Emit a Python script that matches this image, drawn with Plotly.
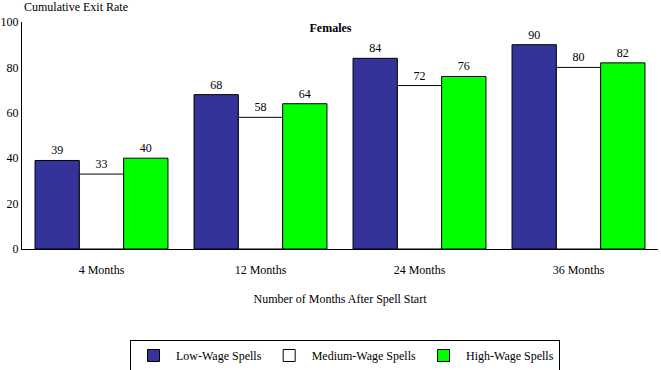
import plotly.graph_objects as go

categories = ["4 Months", "12 Months", "24 Months", "36 Months"]
low_wage = [39, 68, 84, 90]
medium_wage = [33, 58, 72, 80]
high_wage = [40, 64, 76, 82]
series_names = ["Low-Wage Spells", "Medium-Wage Spells", "High-Wage Spells"]
colors = ["#333399", "#FFFFFF", "#00FF00"]

FONT = "Liberation Serif"

fig = go.Figure()
for name, vals, col in zip(series_names, [low_wage, medium_wage, high_wage], colors):
    fig.add_trace(go.Bar(
        x=categories, y=vals, name=name,
        marker=dict(color=col, line=dict(color="black", width=1)),
        text=[str(v) for v in vals], textposition="outside",
        textfont=dict(family=FONT, size=12, color="black"),
        cliponaxis=False,
    ))

fig.update_layout(
    width=661, height=370,
    margin=dict(l=22, r=3, t=22, b=121, autoexpand=False),
    paper_bgcolor="white", plot_bgcolor="white",
    font=dict(family=FONT, size=12, color="black"),
    barmode="group", bargap=0.164, bargroupgap=0,
    title=dict(text="<b>Females</b>", x=0.5, xref="container", y=1 - 28 / 370,
               yref="container", xanchor="center", yanchor="middle",
               font=dict(family=FONT, size=12)),
    xaxis=dict(showline=True, linecolor="black", linewidth=1, ticks="outside",
               ticklen=10, tickcolor="rgba(0,0,0,0)", automargin=False,
               showgrid=False, tickfont=dict(family=FONT, size=12),
               title=dict(text="Number of Months After Spell Start", standoff=18,
                          font=dict(family=FONT, size=12))),
    yaxis=dict(range=[0, 100], tickvals=[0, 20, 40, 60, 80, 100], showline=True,
               linecolor="black", linewidth=1, ticks="", showgrid=False,
               zeroline=False, automargin=False, tickfont=dict(family=FONT, size=12)),
    legend=dict(orientation="h", x=345 / 661, xanchor="center", xref="container",
                y=(249 - 340) / 227, yanchor="top", yref="paper",
                bordercolor="black", borderwidth=1,
                font=dict(family=FONT, size=12), itemwidth=35,
                traceorder="normal"),
    annotations=[dict(text="Cumulative Exit Rate", xref="paper", yref="paper",
                      x=0, y=1, xshift=0, yshift=6, xanchor="left", yanchor="bottom",
                      showarrow=False, font=dict(family=FONT, size=12))],
)

fig.write_html("out.html", config={"displayModeBar": False},
               post_script="document.body.style.margin='0';")
